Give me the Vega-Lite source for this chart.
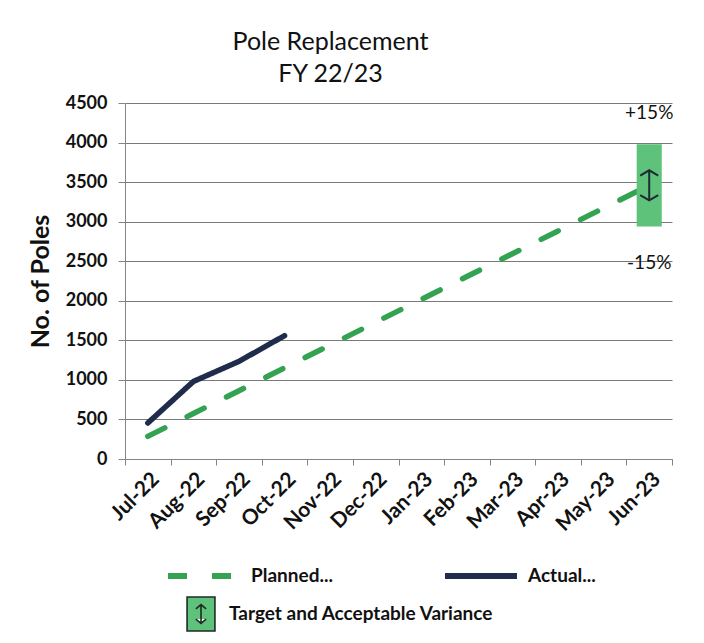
{
  "$schema": "https://vega.github.io/schema/vega-lite/v6.json",
  "width": 547,
  "height": 356,
  "autosize": "none",
  "padding": {"left": 125, "top": 103, "right": 32, "bottom": 184},
  "background": "white",
  "title": {
    "text": ["Pole Replacement", "FY 22/23"],
    "font": "Lato",
    "fontSize": 25,
    "fontWeight": "normal",
    "color": "#111111",
    "anchor": "middle",
    "dx": -68,
    "offset": 7,
    "lineHeight": 32
  },
  "config": {
    "view": {"stroke": null},
    "axis": {
      "labelFont": "Lato",
      "labelFontWeight": "bold",
      "labelColor": "#111111",
      "titleFont": "Lato",
      "titleColor": "#111111",
      "domainColor": "#858585",
      "tickColor": "#858585",
      "gridColor": "#7a7a7a",
      "gridWidth": 1
    },
    "legend": {
      "labelFont": "Lato",
      "labelFontWeight": "bold",
      "labelFontSize": 19,
      "labelColor": "#111111",
      "labelLimit": 400
    }
  },
  "datasets": {
    "lines": [
      {"month": "Jul-22", "series": "Planned...", "value": 286},
      {"month": "Aug-22", "series": "Planned...", "value": 575},
      {"month": "Sep-22", "series": "Planned...", "value": 863},
      {"month": "Oct-22", "series": "Planned...", "value": 1152},
      {"month": "Nov-22", "series": "Planned...", "value": 1440},
      {"month": "Dec-22", "series": "Planned...", "value": 1729},
      {"month": "Jan-23", "series": "Planned...", "value": 2018},
      {"month": "Feb-23", "series": "Planned...", "value": 2306},
      {"month": "Mar-23", "series": "Planned...", "value": 2595},
      {"month": "Apr-23", "series": "Planned...", "value": 2883},
      {"month": "May-23", "series": "Planned...", "value": 3172},
      {"month": "Jun-23", "series": "Planned...", "value": 3460},
      {"month": "Jul-22", "series": "Actual...", "value": 455},
      {"month": "Aug-22", "series": "Actual...", "value": 980},
      {"month": "Sep-22", "series": "Actual...", "value": 1234},
      {"month": "Oct-22", "series": "Actual...", "value": 1559}
    ],
    "target": [
      {"month": "Jun-23", "low": 2940, "high": 3980, "target": 3460, "label": "Target and Acceptable Variance"}
    ],
    "bounds": [
      {"month": "Jun-23", "value": 4370, "text": "+15%"},
      {"month": "Jun-23", "value": 2478, "text": "-15%"}
    ]
  },
  "layer": [
    {
      "data": {"name": "lines"},
      "mark": {"type": "line", "strokeWidth": 5.5, "strokeCap": "round"},
      "encoding": {
        "x": {
          "field": "month",
          "type": "nominal",
          "sort": ["Jul-22","Aug-22","Sep-22","Oct-22","Nov-22","Dec-22","Jan-23","Feb-23","Mar-23","Apr-23","May-23","Jun-23"],
          "scale": {"type": "band", "paddingInner": 0, "paddingOuter": 0},
          "axis": {"title": null, "labelAngle": -45, "labelFontSize": 21, "labelPadding": 3, "tickBand": "extent", "tickSize": 6, "grid": false, "labelOverlap": false}
        },
        "y": {
          "field": "value",
          "type": "quantitative",
          "scale": {"domain": [0, 4500], "nice": false},
          "axis": {"title": "No. of Poles", "titleFontSize": 25, "titleFontWeight": "bold", "titlePadding": 12, "values": [0,500,1000,1500,2000,2500,3000,3500,4000,4500], "format": "d", "labelOverlap": false, "labelFontSize": 18, "labelPadding": 11, "tickSize": 7, "grid": true}
        },
        "color": {
          "field": "series",
          "type": "nominal",
          "scale": {"domain": ["Planned...", "Actual..."], "range": ["#33a352", "#1f2c4c"]},
          "legend": {
            "title": null,
            "orient": "none",
            "legendX": 40,
            "legendY": 434,
            "direction": "horizontal",
            "columns": 2,
            "symbolType": "stroke",
            "symbolSize": 5184,
            "symbolStrokeWidth": 6,
            "columnPadding": 100,
            "labelOffset": 8,
            "encode": {
              "symbols": {
                "update": {
                  "strokeDash": {"signal": "datum.value === 'Planned...' ? [24, 20] : [1, 0]"}
                }
              }
            }
          }
        },
        "strokeDash": {
          "field": "series",
          "type": "nominal",
          "scale": {"domain": ["Planned...", "Actual..."], "range": [[19, 25], [1, 0]]},
          "legend": null
        }
      }
    },
    {
      "data": {"name": "target"},
      "mark": {"type": "bar", "width": {"band": 0.55}, "opacity": 1},
      "encoding": {
        "x": {"field": "month", "type": "nominal", "sort": ["Jul-22","Aug-22","Sep-22","Oct-22","Nov-22","Dec-22","Jan-23","Feb-23","Mar-23","Apr-23","May-23","Jun-23"]},
        "y": {
          "field": "low",
          "type": "quantitative",
          "axis": {"title": "No. of Poles", "titleFontSize": 25, "titleFontWeight": "bold", "titlePadding": 12, "values": [0,500,1000,1500,2000,2500,3000,3500,4000,4500], "format": "d", "labelOverlap": false, "labelFontSize": 18, "labelPadding": 11, "tickSize": 7, "grid": true}
        },
        "y2": {"field": "high"},
        "fill": {
          "field": "label",
          "type": "nominal",
          "scale": {"range": ["#5ec27a"]},
          "legend": {
            "title": null,
            "orient": "none",
            "legendX": 58,
            "legendY": 493,
            "symbolType": "M-0.82,-1H0.82V1H-0.82Z M0,-0.55V0.55 M-0.3,-0.3L0,-0.55L0.3,-0.3 M-0.3,0.3L0,0.55L0.3,0.3",
            "symbolSize": 1156,
            "symbolStrokeColor": "#1f2a24",
            "symbolStrokeWidth": 1.6,
            "symbolOpacity": 1,
            "labelOffset": 10
          }
        }
      }
    },
    {
      "data": {"name": "target"},
      "mark": {
        "type": "point",
        "shape": "M0,-1V1M-0.6,-0.65L0,-1L0.6,-0.65M-0.6,0.65L0,1L0.6,0.65",
        "filled": false,
        "stroke": "#1d2b36",
        "strokeWidth": 2,
        "size": 900,
        "opacity": 1
      },
      "encoding": {
        "x": {"field": "month", "type": "nominal", "sort": ["Jul-22","Aug-22","Sep-22","Oct-22","Nov-22","Dec-22","Jan-23","Feb-23","Mar-23","Apr-23","May-23","Jun-23"]},
        "y": {
          "field": "target",
          "type": "quantitative",
          "axis": {"title": "No. of Poles", "titleFontSize": 25, "titleFontWeight": "bold", "titlePadding": 12, "values": [0,500,1000,1500,2000,2500,3000,3500,4000,4500], "format": "d", "labelOverlap": false, "labelFontSize": 18, "labelPadding": 11, "tickSize": 7, "grid": true}
        }
      }
    },
    {
      "data": {"name": "bounds"},
      "mark": {"type": "text", "font": "Lato", "fontSize": 19, "color": "#111111", "align": "center", "baseline": "middle"},
      "encoding": {
        "x": {"field": "month", "type": "nominal", "sort": ["Jul-22","Aug-22","Sep-22","Oct-22","Nov-22","Dec-22","Jan-23","Feb-23","Mar-23","Apr-23","May-23","Jun-23"]},
        "y": {
          "field": "value",
          "type": "quantitative",
          "axis": {"title": "No. of Poles", "titleFontSize": 25, "titleFontWeight": "bold", "titlePadding": 12, "values": [0,500,1000,1500,2000,2500,3000,3500,4000,4500], "format": "d", "labelOverlap": false, "labelFontSize": 18, "labelPadding": 11, "tickSize": 7, "grid": true}
        },
        "text": {"field": "text"}
      }
    }
  ]
}
